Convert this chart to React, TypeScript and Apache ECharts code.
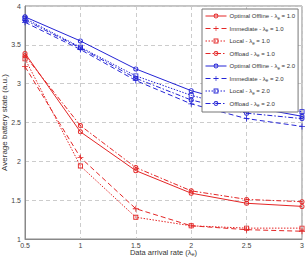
import React, { useEffect, useRef } from "react";
import * as echarts from "echarts";

const xValues = [0.5, 1, 1.5, 2, 2.5, 3];

const redOptimal = [3.39, 2.38, 1.88, 1.59, 1.46, 1.42];
const redImmediate = [3.22, 2.05, 1.39, 1.17, 1.12, 1.1];
const redLocal = [3.32, 1.94, 1.28, 1.17, 1.14, 1.14];
const redOffload = [3.36, 2.46, 1.92, 1.62, 1.51, 1.48];

const blueOptimal = [3.86, 3.55, 3.19, 2.91, 2.71, 2.58];
const blueImmediate = [3.79, 3.44, 3.04, 2.74, 2.55, 2.45];
const blueLocal = [3.84, 3.47, 3.1, 2.85, 2.66, 2.64];
const blueOffload = [3.82, 3.46, 3.07, 2.79, 2.62, 2.55];

const names = [
  "Optimal Offline - λ{sub|e} = 1.0",
  "Immediate - λ{sub|e} = 1.0",
  "Local - λ{sub|e} = 1.0",
  "Offload - λ{sub|e} = 1.0",
  "Optimal Offline - λ{sub|e} = 2.0",
  "Immediate - λ{sub|e} = 2.0",
  "Local - λ{sub|e} = 2.0",
  "Offload - λ{sub|e} = 2.0",
];

const RED = "rgb(228,38,38)";
const BLUE = "rgb(36,36,214)";
const PLUS = "path://M4.3,0H5.7V4.3H10V5.7H5.7V10H4.3V5.7H0V4.3H4.3Z";
const RING =
  "path://M0,5A5,5 0 1,1 10,5A5,5 0 1,1 0,5Z M1.8,5A3.2,3.2 0 1,0 8.2,5A3.2,3.2 0 1,0 1.8,5Z";
const SQUARE = "path://M0,0H10V10H0Z M1.8,1.8V8.2H8.2V1.8Z";
const DOTRING =
  "path://M0,5A5,5 0 1,1 10,5A5,5 0 1,1 0,5Z M1.8,5A3.2,3.2 0 1,0 8.2,5A3.2,3.2 0 1,0 1.8,5Z M3.4,5A1.6,1.6 0 1,1 6.6,5A1.6,1.6 0 1,1 3.4,5Z";

export default function App() {
  const ref = useRef<HTMLDivElement>(null);
  useEffect(() => {
    if (!ref.current) return;
    const chart = echarts.init(ref.current, undefined, { renderer: "svg" });
    const mk = (name: string, vals: number[], color: string, kind: string) => {
      let symbol = RING;
      let size = 5;
      let type: any = "solid";
      if (kind === "imm") {
        symbol = PLUS;
        size = 6;
        type = [5, 3];
      } else if (kind === "loc") {
        symbol = SQUARE;
        size = 5;
        type = [1.5, 1.5];
      } else if (kind === "off") {
        symbol = DOTRING;
        size = 5;
        type = [5, 2, 1.5, 2];
      }
      return {
        name,
        type: "line",
        data: xValues.map((x, i) => [x, vals[i]]),
        symbol,
        symbolSize: size,
        showAllSymbol: true,
        lineStyle: { color, width: 1, type },
        itemStyle: { color, borderWidth: 0 },
        emphasis: { disabled: true },
      };
    };
    const rich = {
      sub: { fontSize: 4.5, verticalAlign: "bottom", padding: [4, 0, 0, 0], fontFamily: "Liberation Sans", color: "#333" },
    };
    const richAxis = {
      sub: { fontSize: 5.5, verticalAlign: "bottom", padding: [3, 0, 0, 0], fontFamily: "Liberation Sans", color: "#333" },
    };
    chart.setOption({
      animation: false,
      textStyle: { fontFamily: "Liberation Sans" },
      grid: {
        left: 25,
        right: 3,
        top: 6,
        bottom: 19,
        outerBoundsMode: "none",
        containLabel: false,
        show: true,
        borderColor: "#888",
        borderWidth: 1,
        backgroundColor: "#fff",
      },
      legend: {
        orient: "vertical",
        left: 202,
        top: 9,
        padding: [4, 3, 4, 3],
        itemGap: 5,
        itemWidth: 21,
        itemHeight: 6,
        backgroundColor: "#fff",
        borderColor: "#777",
        borderWidth: 1,
        borderRadius: 0,
        lineStyle: { width: 1 },
        itemStyle: { borderWidth: 0 },
        textStyle: { fontSize: 6, color: "#333", padding: [0, 0, 0, -2], rich },
        data: names,
      },
      xAxis: {
        type: "value",
        min: 0.5,
        max: 3,
        interval: 0.5,
        name: "Data arrival rate (λ{sub|e})",
        nameLocation: "middle",
        nameGap: 9,
        nameMoveOverlap: false,
        nameTextStyle: { fontSize: 7.5, color: "#333", rich: richAxis },
        axisLine: { lineStyle: { color: "#888" } },
        axisTick: { show: false },
        axisLabel: { fontSize: 7, color: "#444", margin: 3 },
        splitLine: { show: true, lineStyle: { color: "#ccc", type: [4, 3] } },
      },
      yAxis: {
        type: "value",
        min: 1,
        max: 4,
        interval: 0.5,
        name: "Average battery state (a.u.)",
        nameLocation: "middle",
        nameGap: 17,
        nameMoveOverlap: false,
        nameTextStyle: { fontSize: 8, color: "#333" },
        axisLine: { show: true, lineStyle: { color: "#888" } },
        axisTick: { show: false },
        axisLabel: { fontSize: 7, color: "#444", margin: 4 },
        splitLine: { show: true, lineStyle: { color: "#ccc", type: [4, 3] } },
      },
      series: [
        mk(names[0], redOptimal, RED, "opt"),
        mk(names[1], redImmediate, RED, "imm"),
        mk(names[2], redLocal, RED, "loc"),
        mk(names[3], redOffload, RED, "off"),
        mk(names[4], blueOptimal, BLUE, "opt"),
        mk(names[5], blueImmediate, BLUE, "imm"),
        mk(names[6], blueLocal, BLUE, "loc"),
        mk(names[7], blueOffload, BLUE, "off"),
      ],
    });
    return () => chart.dispose();
  }, []);
  return <div ref={ref} style={{ width: 305, height: 258, position: "absolute", left: 0, top: 0 }} />;
}
